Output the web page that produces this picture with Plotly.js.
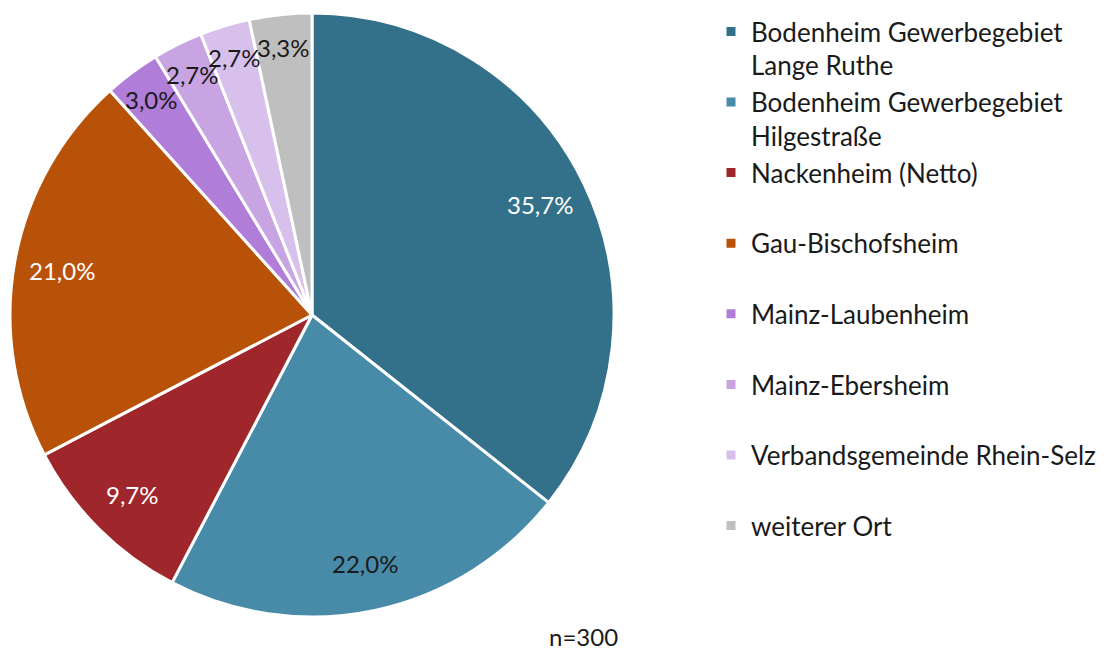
<!DOCTYPE html>
<html>
<head>
<meta charset="utf-8">
<script src="https://cdn.plot.ly/plotly-3.0.1.min.js"></script>
<style>
  html, body { margin: 0; padding: 0; background: #fff; }
  #chart { width: 1116px; height: 651px; }
</style>
</head>
<body>
<div id="chart"></div>
<script>
// Wohnort / Einkaufsort, n=300
const places = [
    'Bodenheim Gewerbegebiet<br>Lange Ruthe',
    'Bodenheim Gewerbegebiet<br>Hilgestraße',
    'Nackenheim (Netto)<br>\u00a0',
    'Gau-Bischofsheim<br>\u00a0',
    'Mainz-Laubenheim<br>\u00a0',
    'Mainz-Ebersheim<br>\u00a0',
    'Verbandsgemeinde Rhein-Selz<br>\u00a0',
    'weiterer Ort<br>\u00a0',
];
const counts = [107, 66, 29, 63, 9, 8, 8, 10];

const colors = ['#33708a', '#488ba8', '#9f272c', '#b95209', '#b07dd8', '#c8a4e2', '#d8c0ec', '#bfbfbf'];
const labelColors = ['#ffffff', '#1a1a1a', '#ffffff', '#ffffff', '#1a1a1a', '#1a1a1a', '#1a1a1a', '#1a1a1a'];

const W = 1116, H = 651;
const cx = 312, cy = 315, r = 302;

const total = counts.reduce((a, b) => a + b, 0);
const pctText = counts.map(c => (c / total * 100).toFixed(1).replace('.', ',') + '%');

// labels sit near the rim, at the middle angle of each slice
const annotations = [];
let cum = 0;
counts.forEach((c, i) => {
    const mid = (cum + c / 2) / total * 2 * Math.PI;
    cum += c;
    const f = c / total < 0.05 ? 0.89 : 0.84;
    const px = cx + f * r * Math.sin(mid);
    const py = cy - f * r * Math.cos(mid);
    annotations.push({
        x: px / W, y: 1 - py / H, xref: 'paper', yref: 'paper',
        xanchor: 'center', yanchor: 'middle',
        text: pctText[i], showarrow: false,
        font: {size: 24, color: labelColors[i]},
    });
});

annotations.push({
    x: 583 / W, y: 1 - 636 / H, xref: 'paper', yref: 'paper',
    xanchor: 'center', yanchor: 'middle',
    text: 'n=300', showarrow: false,
    font: {size: 24, color: '#1a1a1a'},
});

const trace = {
    type: 'pie',
    labels: places,
    values: counts,
    sort: false,
    direction: 'clockwise',
    rotation: 0,
    textinfo: 'none',
    hoverinfo: 'label+percent',
    marker: {colors: colors, line: {color: '#ffffff', width: 3}},
    domain: {x: [(cx - r) / W, (cx + r) / W], y: [1 - (cy + r) / H, 1 - (cy - r) / H]},
};

const layout = {
    width: W,
    height: H,
    margin: {l: 0, r: 0, t: 0, b: 0},
    paper_bgcolor: '#ffffff',
    font: {family: 'Lato, "Open Sans", sans-serif', color: '#1a1a1a'},
    showlegend: true,
    legend: {
        x: 711 / W, y: 1 - 8 / H,
        xanchor: 'left', yanchor: 'top',
        valign: 'top',
        font: {size: 26, color: '#1a1a1a'},
        traceorder: 'normal',
    },
    annotations: annotations,
};

Plotly.newPlot('chart', [trace], layout, {displayModeBar: false});
</script>
</body>
</html>
